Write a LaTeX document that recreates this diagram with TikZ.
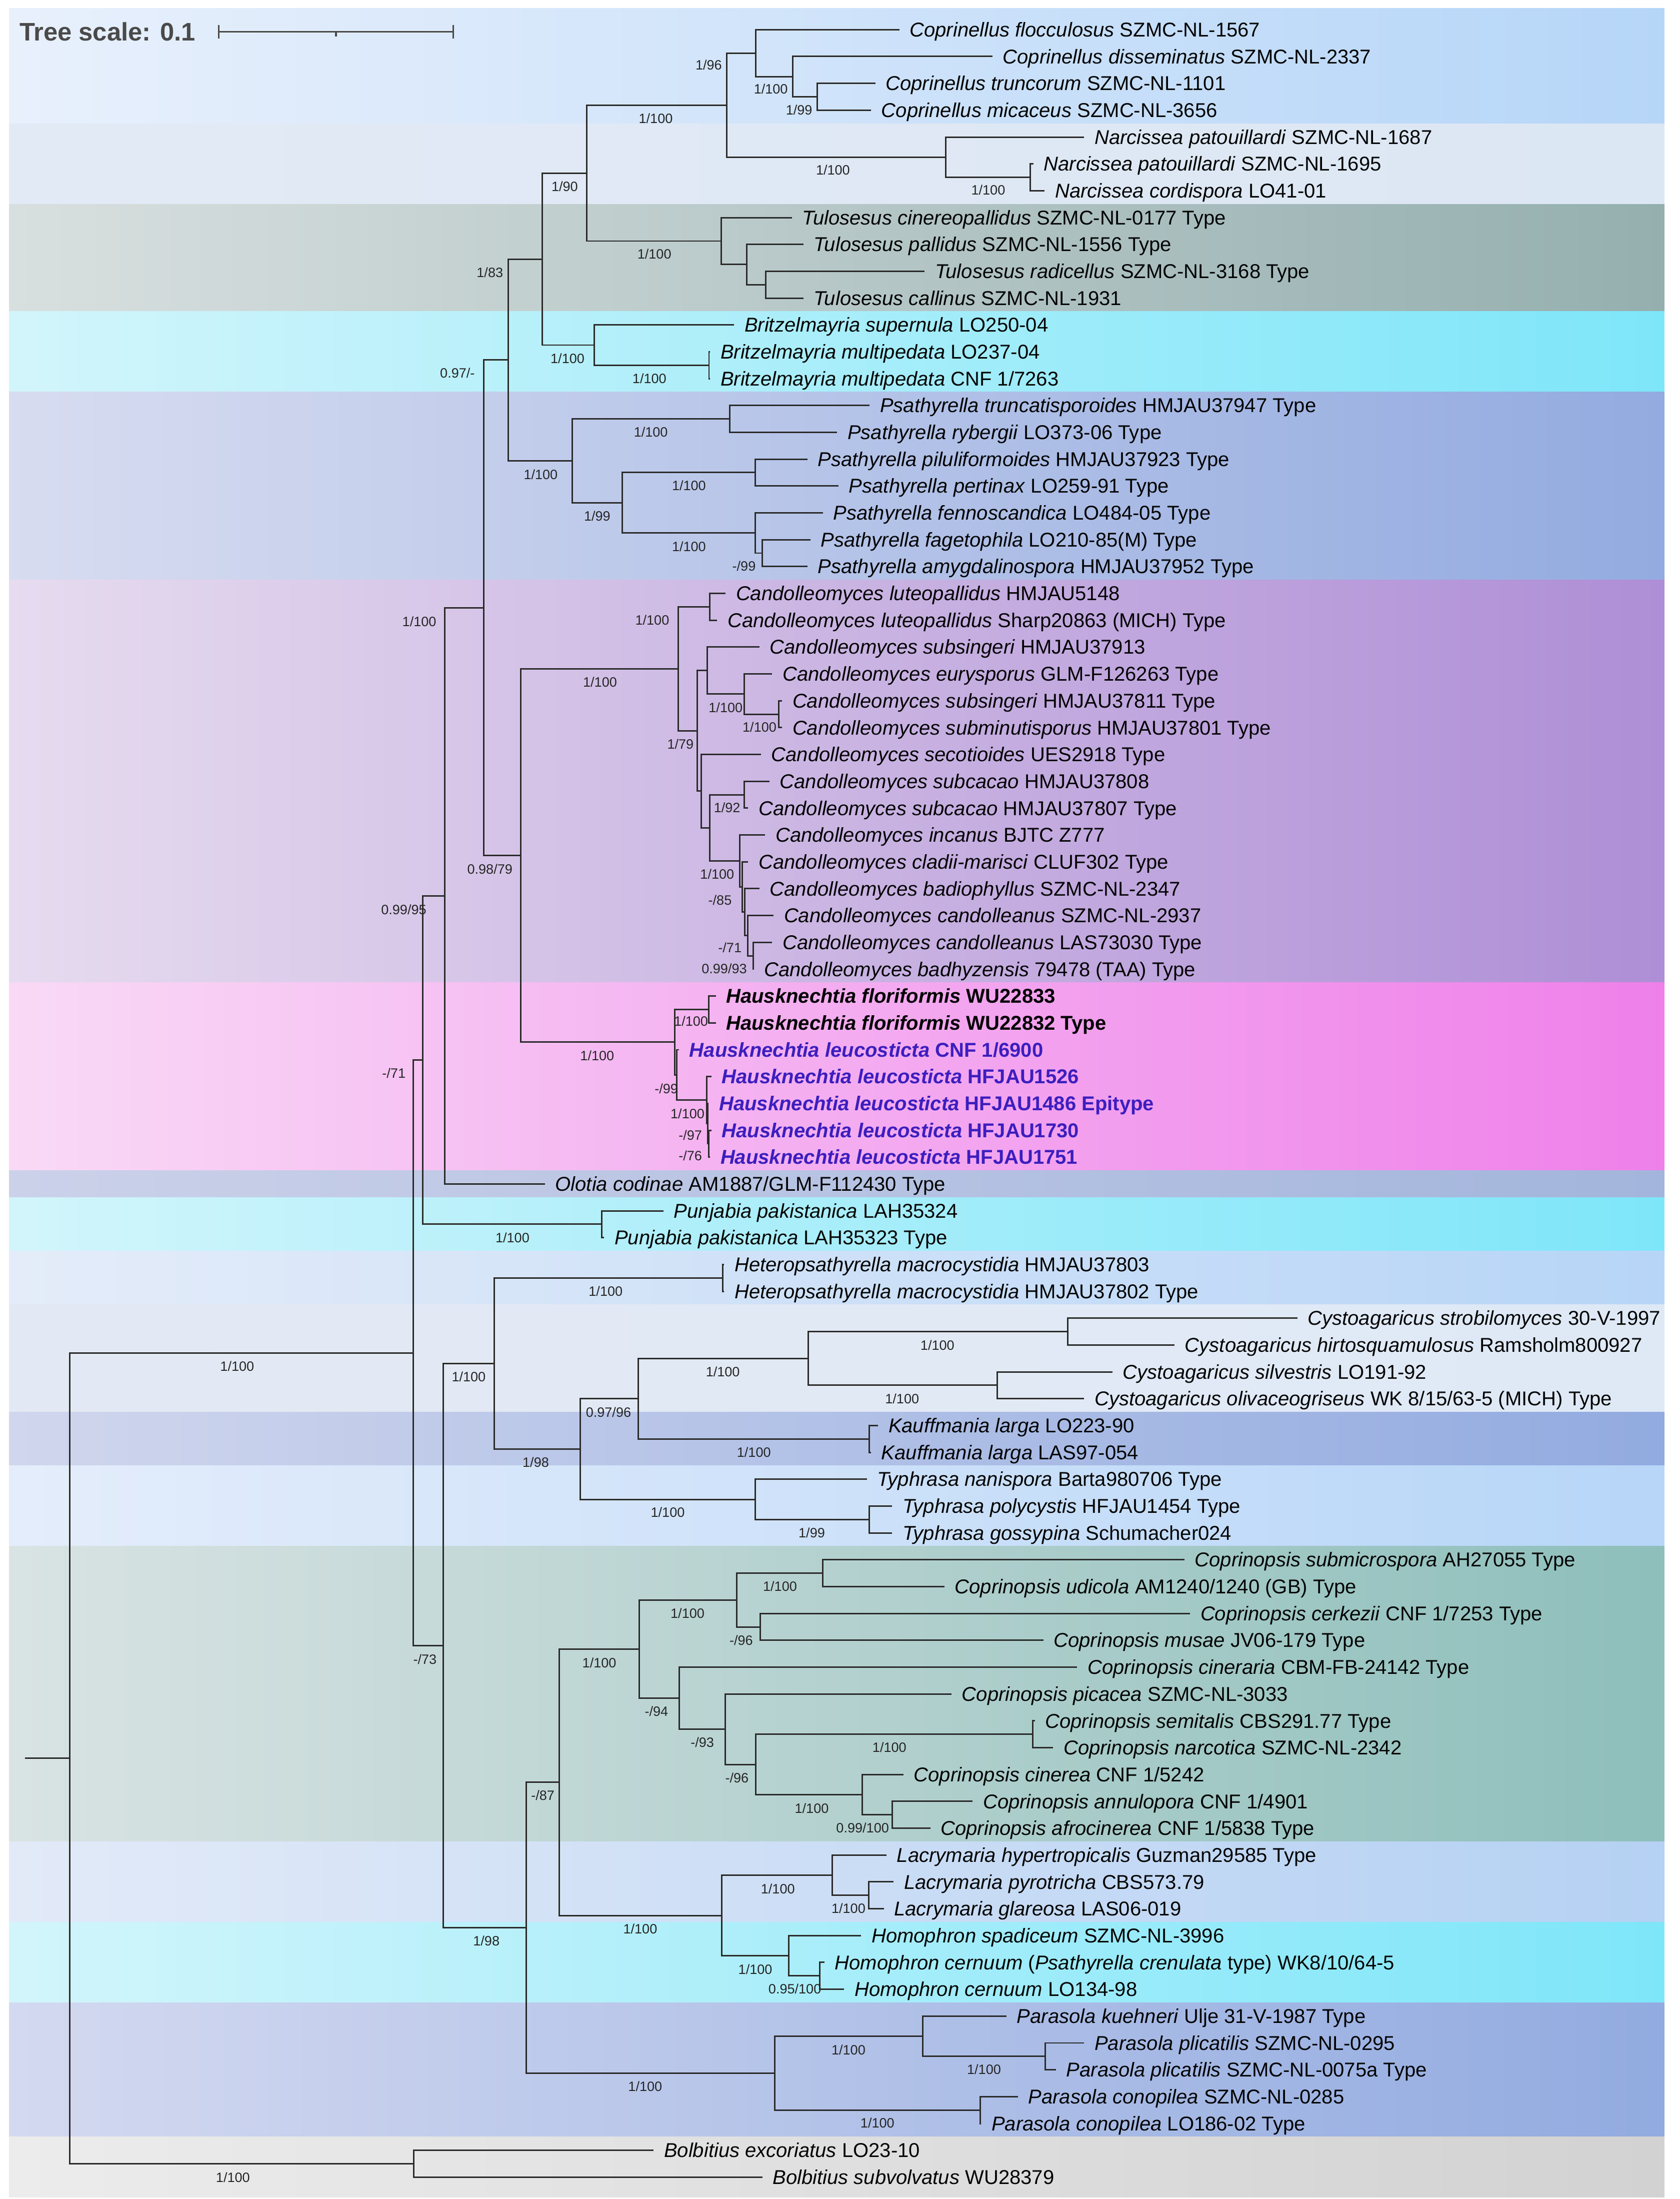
\documentclass[tikz,border=0pt]{standalone}
\usepackage{fontspec}
\setmainfont{Liberation Sans}
\usetikzlibrary{calc}
\definecolor{brc}{HTML}{2B2B2B}
\definecolor{hpurp}{HTML}{3C1EBE}
\definecolor{scl}{HTML}{4A4A4A}
\definecolor{cpL}{HTML}{E8F0FC}\definecolor{cpR}{HTML}{B6D6F8}
\definecolor{naL}{HTML}{E2EAF5}\definecolor{naR}{HTML}{DCE7F4}
\definecolor{tuL}{HTML}{D8DFDF}\definecolor{tuR}{HTML}{95AFAF}
\definecolor{brL}{HTML}{D2F5FB}\definecolor{brR}{HTML}{7EE6F9}
\definecolor{psL}{HTML}{D7DCF0}\definecolor{psR}{HTML}{93ABE0}
\definecolor{caL}{HTML}{E6DBEF}\definecolor{caR}{HTML}{AE8ED6}
\definecolor{haL}{HTML}{F9D9F6}\definecolor{haR}{HTML}{EF80EA}
\definecolor{olL}{HTML}{CBD1E9}\definecolor{olR}{HTML}{A3B5DC}
\definecolor{htL}{HTML}{E4ECF9}\definecolor{htR}{HTML}{B7D5F7}
\definecolor{cyL}{HTML}{E3E9F4}\definecolor{cyR}{HTML}{DFE9F6}
\definecolor{kaL}{HTML}{D0D6ED}\definecolor{kaR}{HTML}{92ABE0}
\definecolor{tyL}{HTML}{E4EDFB}\definecolor{tyR}{HTML}{B7D6F8}
\definecolor{coL}{HTML}{D9E3E3}\definecolor{coR}{HTML}{8EBFBB}
\definecolor{laL}{HTML}{E2EAF8}\definecolor{laR}{HTML}{B5D1F3}
\definecolor{paL}{HTML}{D3D9F0}\definecolor{paR}{HTML}{92ABE0}
\definecolor{boL}{HTML}{ECECEC}\definecolor{boR}{HTML}{D2D2D2}
\newcommand\lfont{\fontsize{8.07pt}{9pt}\selectfont}
\newcommand\sfont{\fontsize{5.46pt}{6pt}\selectfont}
\newcommand\itx[1]{\textit{#1}}
\newcommand\band[4]{\shade[left color=#3, right color=#4] (6.5,#1) rectangle (1179,#2);}
\newcommand\ed[2]{\draw[br] (#1) |- (#2);}
\newcommand\lfx[4]{%
  \coordinate (lfend#1) at ({#2-8},{21+(#1-1)*19.01});
  \draw[br] (#3) |- (lfend#1);
  \node[lbl] (lftxt#1) at ({#2-1},{21+(#1-1)*19.01}) {#4};}
\newcommand\sv[4]{\node[sup] (#1) at (#2,#3) {#4};}
\begin{document}
\begin{tikzpicture}[x=0.02cm,y=-0.02cm,
  br/.style={draw=brc, line width=0.6pt},
  lbl/.style={anchor=west, inner sep=0pt, text height=5.7pt, text depth=0pt, font=\lfont},
  sup/.style={inner sep=0pt, text height=3.9pt, text depth=0pt, font=\sfont, text=black!85}]
\useasboundingbox (0,0) rectangle (1190,1557.27);
% ---- coloured ranges
\band{6}{87.535}{cpL}{cpR}
\band{87.535}{144.565}{naL}{naR}
\band{144.565}{220.605}{tuL}{tuR}
\band{220.605}{277.635}{brL}{brR}
\band{277.635}{410.705}{psL}{psR}
\band{410.705}{695.855}{caL}{caR}
\band{695.855}{828.925}{haL}{haR}
\band{828.925}{847.935}{olL}{olR}
\band{847.935}{885.955}{brL}{brR}
\band{885.955}{923.975}{htL}{htR}
\band{923.975}{1000.015}{cyL}{cyR}
\band{1000.015}{1038.035}{kaL}{kaR}
\band{1038.035}{1095.065}{tyL}{tyR}
\band{1095.065}{1304.175}{coL}{coR}
\band{1304.175}{1361.205}{laL}{laR}
\band{1361.205}{1418.235}{brL}{brR}
\band{1418.235}{1513.285}{paL}{paR}
\band{1513.285}{1556}{boL}{boR}
% ---- tree scale
\node[anchor=west, inner sep=0pt, text height=7.3pt, text depth=0pt, font=\fontsize{10.24pt}{12pt}\selectfont\bfseries, text=scl] (ts) at (13.5,22.5) {Tree scale: 0.1};
\coordinate (sbl) at (155,22.5); \coordinate (sbr) at (321,22.5); \coordinate (sbm) at (238,22.5);
\draw[scl, line width=0.7pt] (sbl) -- (sbr);
\draw[scl, line width=0.7pt] (sbl) ++(0,-4.7) -- ++(0,9.4);
\draw[scl, line width=0.7pt] (sbr) ++(0,-4.7) -- ++(0,9.4);
\draw[scl, line width=0.7pt] (sbm) -- ++(0,3.4);
% ---- internal nodes
\coordinate (root0) at (17.6,1245.16);
\coordinate (root) at (49.3,1245.16);
\coordinate (N1) at (292.7,958.02);
\coordinate (Bo) at (293.2,1532.30);
\coordinate (N71) at (299.6,750.68);
\coordinate (R) at (315,634.41);
\coordinate (P) at (342.8,430.38);
\coordinate (u3) at (360.1,254.92);
\coordinate (u2) at (384.2,183.48);
\coordinate (u1) at (415.6,122.59);
\coordinate (cn) at (514.7,74.47);
\coordinate (c1) at (535.4,37.63);
\coordinate (c2) at (561.5,54.27);
\coordinate (c3) at (578.8,68.53);
\coordinate (n1) at (669.9,111.30);
\coordinate (n2) at (729.7,125.56);
\coordinate (tu0) at (510.9,170.70);
\coordinate (tu1) at (528.9,187.34);
\coordinate (tu2) at (542.4,201.60);
\coordinate (b0) at (420.8,244.37);
\coordinate (b1) at (502.2,258.63);
\coordinate (p0) at (405.4,326.35);
\coordinate (p1) at (516.8,296.65);
\coordinate (p2) at (440.7,356.05);
\coordinate (p3) at (534.8,334.67);
\coordinate (p4) at (534.8,377.44);
\coordinate (p5) at (539.8,391.70);
\coordinate (Q) at (368.7,605.84);
\coordinate (C0) at (480.5,473.64);
\coordinate (C1) at (502.9,429.72);
\coordinate (C2) at (493.9,517.56);
\coordinate (C3) at (500.8,474.86);
\coordinate (C5) at (527.3,491.50);
\coordinate (C6) at (551.7,505.76);
\coordinate (C4) at (496.8,560.26);
\coordinate (C7) at (502.9,586.25);
\coordinate (C8) at (527.3,562.79);
\coordinate (C9) at (524,609.72);
\coordinate (C10) at (525.6,628.13);
\coordinate (C11) at (527.5,645.95);
\coordinate (C12) at (529.5,662.59);
\coordinate (C13) at (533.4,676.85);
\coordinate (H0) at (477.8,738.03);
\coordinate (Fl) at (501.9,714.87);
\coordinate (H1) at (479.5,761.20);
\coordinate (H2) at (500.7,779.03);
\coordinate (H3) at (501.2,795.66);
\coordinate (H4) at (502,809.92);
\coordinate (PJ) at (426.4,866.95);
\coordinate (N73) at (314,1165.35);
\coordinate (NT) at (350,965.56);
\coordinate (HT) at (512,904.97);
\coordinate (N98) at (411,1026.16);
\coordinate (N96) at (452.1,990.51);
\coordinate (CY) at (572.4,962.00);
\coordinate (Ca) at (756.3,942.99);
\coordinate (Cb) at (706.5,981.01);
\coordinate (Ka) at (615.8,1019.03);
\coordinate (TY) at (534.8,1061.80);
\coordinate (T2) at (615.8,1076.06);
\coordinate (NB) at (372.7,1365.15);
\coordinate (N87) at (396.2,1262.15);
\coordinate (CP0) at (452.7,1167.84);
\coordinate (CP1) at (521.8,1133.09);
\coordinate (CP1a) at (582.8,1114.08);
\coordinate (CP1b) at (538.5,1152.10);
\coordinate (CP2) at (481.1,1202.59);
\coordinate (CP3) at (513.7,1224.57);
\coordinate (CP4) at (535.3,1249.52);
\coordinate (CP5) at (731.5,1228.14);
\coordinate (CP6) at (610.8,1270.91);
\coordinate (CP7) at (632,1285.17);
\coordinate (LH) at (511.4,1356.46);
\coordinate (LA) at (589.6,1327.94);
\coordinate (LB) at (615.3,1342.20);
\coordinate (HM) at (558.8,1384.97);
\coordinate (HM2) at (580.5,1399.23);
\coordinate (PA) at (548.9,1468.14);
\coordinate (PA1) at (653.7,1442.00);
\coordinate (PA1b) at (740.4,1456.26);
\coordinate (PA2) at (694.3,1494.28);
% ---- internal branches
\draw[br] (root0) -- (root);
\ed{root}{N1} \ed{root}{Bo}
\ed{N1}{N71} \ed{N1}{N73}
\ed{N71}{R} \ed{N71}{PJ}
\ed{R}{P}
\ed{P}{u3} \ed{P}{Q}
\ed{u3}{u2} \ed{u3}{p0}
\ed{u2}{u1} \ed{u2}{b0}
\ed{u1}{cn} \ed{u1}{tu0}
\ed{cn}{c1} \ed{cn}{n1}
\ed{c1}{c2} \ed{c2}{c3}
\ed{n1}{n2}
\ed{tu0}{tu1} \ed{tu1}{tu2}
\ed{b0}{b1}
\ed{p0}{p1} \ed{p0}{p2}
\ed{p2}{p3} \ed{p2}{p4} \ed{p4}{p5}
\ed{Q}{C0} \ed{Q}{H0}
\ed{C0}{C1} \ed{C0}{C2}
\ed{C2}{C3} \ed{C2}{C4}
\ed{C3}{C5} \ed{C5}{C6}
\ed{C4}{C7} \ed{C7}{C8} \ed{C7}{C9}
\ed{C9}{C10} \ed{C10}{C11} \ed{C11}{C12} \ed{C12}{C13}
\ed{H0}{Fl} \ed{H0}{H1}
\ed{H1}{H2} \ed{H2}{H3} \ed{H3}{H4}
\ed{N73}{NT} \ed{N73}{NB}
\ed{NT}{HT} \ed{NT}{N98}
\ed{N98}{N96} \ed{N98}{TY}
\ed{N96}{CY} \ed{N96}{Ka}
\ed{CY}{Ca} \ed{CY}{Cb}
\ed{TY}{T2}
\ed{NB}{N87} \ed{NB}{PA}
\ed{N87}{CP0} \ed{N87}{LH}
\ed{CP0}{CP1} \ed{CP0}{CP2}
\ed{CP1}{CP1a} \ed{CP1}{CP1b}
\ed{CP2}{CP3} \ed{CP3}{CP4}
\ed{CP4}{CP5} \ed{CP4}{CP6} \ed{CP6}{CP7}
\ed{LH}{LA} \ed{LH}{HM}
\ed{LA}{LB} \ed{HM}{HM2}
\ed{PA}{PA1} \ed{PA}{PA2} \ed{PA1}{PA1b}
% ---- leaves
\lfx{1}{645}{c1}{\itx{Coprinellus flocculosus} SZMC-NL-1567}
\lfx{2}{711}{c2}{\itx{Coprinellus disseminatus} SZMC-NL-2337}
\lfx{3}{628}{c3}{\itx{Coprinellus truncorum} SZMC-NL-1101}
\lfx{4}{625}{c3}{\itx{Coprinellus micaceus} SZMC-NL-3656}
\lfx{5}{776}{n1}{\itx{Narcissea patouillardi} SZMC-NL-1687}
\lfx{6}{740}{n2}{\itx{Narcissea patouillardi} SZMC-NL-1695}
\lfx{7}{748}{n2}{\itx{Narcissea cordispora} LO41-01}
\lfx{8}{569}{tu0}{\itx{Tulosesus cinereopallidus} SZMC-NL-0177 Type}
\lfx{9}{577}{tu1}{\itx{Tulosesus pallidus} SZMC-NL-1556 Type}
\lfx{10}{663}{tu2}{\itx{Tulosesus radicellus} SZMC-NL-3168 Type}
\lfx{11}{577}{tu2}{\itx{Tulosesus callinus} SZMC-NL-1931}
\lfx{12}{528}{b0}{\itx{Britzelmayria supernula} LO250-04}
\lfx{13}{511}{b1}{\itx{Britzelmayria multipedata} LO237-04}
\lfx{14}{511}{b1}{\itx{Britzelmayria multipedata} CNF 1/7263}
\lfx{15}{624}{p1}{\itx{Psathyrella truncatisporoides} HMJAU37947 Type}
\lfx{16}{601}{p1}{\itx{Psathyrella rybergii} LO373-06 Type}
\lfx{17}{580}{p3}{\itx{Psathyrella piluliformoides} HMJAU37923 Type}
\lfx{18}{602}{p3}{\itx{Psathyrella pertinax} LO259-91 Type}
\lfx{19}{591}{p4}{\itx{Psathyrella fennoscandica} LO484-05 Type}
\lfx{20}{582}{p5}{\itx{Psathyrella fagetophila} LO210-85(M) Type}
\lfx{21}{580}{p5}{\itx{Psathyrella amygdalinospora} HMJAU37952 Type}
\lfx{22}{522}{C1}{\itx{Candolleomyces luteopallidus} HMJAU5148}
\lfx{23}{516}{C1}{\itx{Candolleomyces luteopallidus} Sharp20863 (MICH) Type}
\lfx{24}{546}{C3}{\itx{Candolleomyces subsingeri} HMJAU37913}
\lfx{25}{555}{C5}{\itx{Candolleomyces eurysporus} GLM-F126263 Type}
\lfx{26}{562}{C6}{\itx{Candolleomyces subsingeri} HMJAU37811 Type}
\lfx{27}{562}{C6}{\itx{Candolleomyces subminutisporus} HMJAU37801 Type}
\lfx{28}{547}{C4}{\itx{Candolleomyces secotioides} UES2918 Type}
\lfx{29}{553}{C8}{\itx{Candolleomyces subcacao} HMJAU37808}
\lfx{30}{538}{C8}{\itx{Candolleomyces subcacao} HMJAU37807 Type}
\lfx{31}{550}{C9}{\itx{Candolleomyces incanus} BJTC Z777}
\lfx{32}{538}{C10}{\itx{Candolleomyces cladii-marisci} CLUF302 Type}
\lfx{33}{546}{C11}{\itx{Candolleomyces badiophyllus} SZMC-NL-2347}
\lfx{34}{556}{C12}{\itx{Candolleomyces candolleanus} SZMC-NL-2937}
\lfx{35}{555}{C13}{\itx{Candolleomyces candolleanus} LAS73030 Type}
\lfx{36}{542}{C13}{\itx{Candolleomyces badhyzensis} 79478 (TAA) Type}
\lfx{37}{515}{Fl}{\bfseries\itx{Hausknechtia floriformis} WU22833}
\lfx{38}{515}{Fl}{\bfseries\itx{Hausknechtia floriformis} WU22832 Type}
\lfx{39}{489}{H1}{\color{hpurp}\bfseries\itx{Hausknechtia leucosticta} CNF 1/6900}
\lfx{40}{512}{H2}{\color{hpurp}\bfseries\itx{Hausknechtia leucosticta} HFJAU1526}
\lfx{41}{510}{H3}{\color{hpurp}\bfseries\itx{Hausknechtia leucosticta} HFJAU1486 Epitype}
\lfx{42}{512}{H4}{\color{hpurp}\bfseries\itx{Hausknechtia leucosticta} HFJAU1730}
\lfx{43}{511}{H4}{\color{hpurp}\bfseries\itx{Hausknechtia leucosticta} HFJAU1751}
\lfx{44}{394}{R}{\itx{Olotia codinae} AM1887/GLM-F112430 Type}
\lfx{45}{478}{PJ}{\itx{Punjabia pakistanica} LAH35324}
\lfx{46}{436}{PJ}{\itx{Punjabia pakistanica} LAH35323 Type}
\lfx{47}{521}{HT}{\itx{Heteropsathyrella macrocystidia} HMJAU37803}
\lfx{48}{521}{HT}{\itx{Heteropsathyrella macrocystidia} HMJAU37802 Type}
\lfx{49}{927}{Ca}{\itx{Cystoagaricus strobilomyces} 30-V-1997}
\lfx{50}{840}{Ca}{\itx{Cystoagaricus hirtosquamulosus} Ramsholm800927}
\lfx{51}{796}{Cb}{\itx{Cystoagaricus silvestris} LO191-92}
\lfx{52}{776}{Cb}{\itx{Cystoagaricus olivaceogriseus} WK 8/15/63-5 (MICH) Type}
\lfx{53}{630}{Ka}{\itx{Kauffmania larga} LO223-90}
\lfx{54}{625}{Ka}{\itx{Kauffmania larga} LAS97-054}
\lfx{55}{622}{TY}{\itx{Typhrasa nanispora} Barta980706 Type}
\lfx{56}{640}{T2}{\itx{Typhrasa polycystis} HFJAU1454 Type}
\lfx{57}{640}{T2}{\itx{Typhrasa gossypina} Schumacher024}
\lfx{58}{847}{CP1a}{\itx{Coprinopsis submicrospora} AH27055 Type}
\lfx{59}{677}{CP1a}{\itx{Coprinopsis udicola} AM1240/1240 (GB) Type}
\lfx{60}{851}{CP1b}{\itx{Coprinopsis cerkezii} CNF 1/7253 Type}
\lfx{61}{747}{CP1b}{\itx{Coprinopsis musae} JV06-179 Type}
\lfx{62}{771}{CP2}{\itx{Coprinopsis cineraria} CBM-FB-24142 Type}
\lfx{63}{682}{CP3}{\itx{Coprinopsis picacea} SZMC-NL-3033}
\lfx{64}{741}{CP5}{\itx{Coprinopsis semitalis} CBS291.77 Type}
\lfx{65}{754}{CP5}{\itx{Coprinopsis narcotica} SZMC-NL-2342}
\lfx{66}{648}{CP6}{\itx{Coprinopsis cinerea} CNF 1/5242}
\lfx{67}{697}{CP7}{\itx{Coprinopsis annulopora} CNF 1/4901}
\lfx{68}{667}{CP7}{\itx{Coprinopsis afrocinerea} CNF 1/5838 Type}
\lfx{69}{636}{LA}{\itx{Lacrymaria hypertropicalis} Guzman29585 Type}
\lfx{70}{641}{LB}{\itx{Lacrymaria pyrotricha} CBS573.79}
\lfx{71}{634}{LB}{\itx{Lacrymaria glareosa} LAS06-019}
\lfx{72}{618}{HM}{\itx{Homophron spadiceum} SZMC-NL-3996}
\lfx{73}{592}{HM2}{\itx{Homophron cernuum} (\itx{Psathyrella crenulata} type) WK8/10/64-5}
\lfx{74}{606}{HM2}{\itx{Homophron cernuum} LO134-98}
\lfx{75}{721}{PA1}{\itx{Parasola kuehneri} Ulje 31-V-1987 Type}
\lfx{76}{776}{PA1b}{\itx{Parasola plicatilis} SZMC-NL-0295}
\lfx{77}{756}{PA1b}{\itx{Parasola plicatilis} SZMC-NL-0075a Type}
\lfx{78}{729}{PA2}{\itx{Parasola conopilea} SZMC-NL-0285}
\lfx{79}{703}{PA2}{\itx{Parasola conopilea} LO186-02 Type}
\lfx{80}{471}{Bo}{\itx{Bolbitius excoriatus} LO23-10}
\lfx{81}{548}{Bo}{\itx{Bolbitius subvolvatus} WU28379}
% ---- support values
\sv{s1}{502}{46}{1/96}
\sv{s2}{546}{63}{1/100}
\sv{s3}{566}{78}{1/99}
\sv{s4}{464.5}{84}{1/100}
\sv{s5}{590}{120.5}{1/100}
\sv{s6}{700}{134.5}{1/100}
\sv{s7}{400}{132}{1/90}
\sv{s8}{463.5}{180}{1/100}
\sv{s9}{347}{193}{1/83}
\sv{s10}{402}{254}{1/100}
\sv{s11}{460}{268}{1/100}
\sv{s12}{324}{264}{0.97/-}
\sv{s13}{383}{336}{1/100}
\sv{s14}{461}{306}{1/100}
\sv{s15}{423}{365.5}{1/99}
\sv{s16}{488}{344}{1/100}
\sv{s17}{488}{387}{1/100}
\sv{s18}{527}{401}{-/99}
\sv{s19}{297}{440}{1/100}
\sv{s20}{462}{439}{1/100}
\sv{s21}{425}{483}{1/100}
\sv{s22}{514}{501}{1/100}
\sv{s23}{538}{515}{1/100}
\sv{s24}{482}{527}{1/79}
\sv{s25}{515}{572}{1/92}
\sv{s26}{508}{619}{1/100}
\sv{s27}{510}{637.5}{-/85}
\sv{s28}{517}{671}{-/71}
\sv{s29}{513}{686}{0.99/93}
\sv{s30}{347}{615.5}{0.98/79}
\sv{s31}{286}{644}{0.99/95}
\sv{s32}{489.5}{723}{1/100}
\sv{s33}{423}{747.5}{1/100}
\sv{s34}{472}{771}{-/99}
\sv{s35}{487}{788.5}{1/100}
\sv{s36}{489}{804}{-/97}
\sv{s37}{489}{818.5}{-/76}
\sv{s38}{279}{760}{-/71}
\sv{s39}{363}{876.5}{1/100}
\sv{s40}{168}{967.5}{1/100}
\sv{s41}{301}{1175}{-/73}
\sv{s42}{332}{975}{1/100}
\sv{s43}{429}{914.5}{1/100}
\sv{s44}{379.5}{1035.5}{1/98}
\sv{s45}{431}{1000}{0.97/96}
\sv{s46}{512}{971.5}{1/100}
\sv{s47}{664}{952.5}{1/100}
\sv{s48}{639}{990.5}{1/100}
\sv{s49}{534}{1028.5}{1/100}
\sv{s50}{473}{1071}{1/100}
\sv{s51}{575}{1085.5}{1/99}
\sv{s52}{344.5}{1374.5}{1/98}
\sv{s53}{384.5}{1271.5}{-/87}
\sv{s54}{424.5}{1177.5}{1/100}
\sv{s55}{487}{1142.5}{1/100}
\sv{s56}{552.5}{1123.5}{1/100}
\sv{s57}{525}{1161.5}{-/96}
\sv{s58}{465}{1212}{-/94}
\sv{s59}{497.5}{1234}{-/93}
\sv{s60}{522}{1259}{-/96}
\sv{s61}{630}{1237.5}{1/100}
\sv{s62}{575}{1280.5}{1/100}
\sv{s63}{611}{1294.5}{0.99/100}
\sv{s64}{453.5}{1366}{1/100}
\sv{s65}{551}{1337.5}{1/100}
\sv{s66}{601}{1351.5}{1/100}
\sv{s67}{535}{1394.5}{1/100}
\sv{s68}{563}{1408.5}{0.95/100}
\sv{s69}{457}{1477.5}{1/100}
\sv{s70}{601}{1451.5}{1/100}
\sv{s71}{697}{1465.5}{1/100}
\sv{s72}{621.5}{1503.5}{1/100}
\sv{s73}{165}{1542}{1/100}
\end{tikzpicture}
\end{document}
